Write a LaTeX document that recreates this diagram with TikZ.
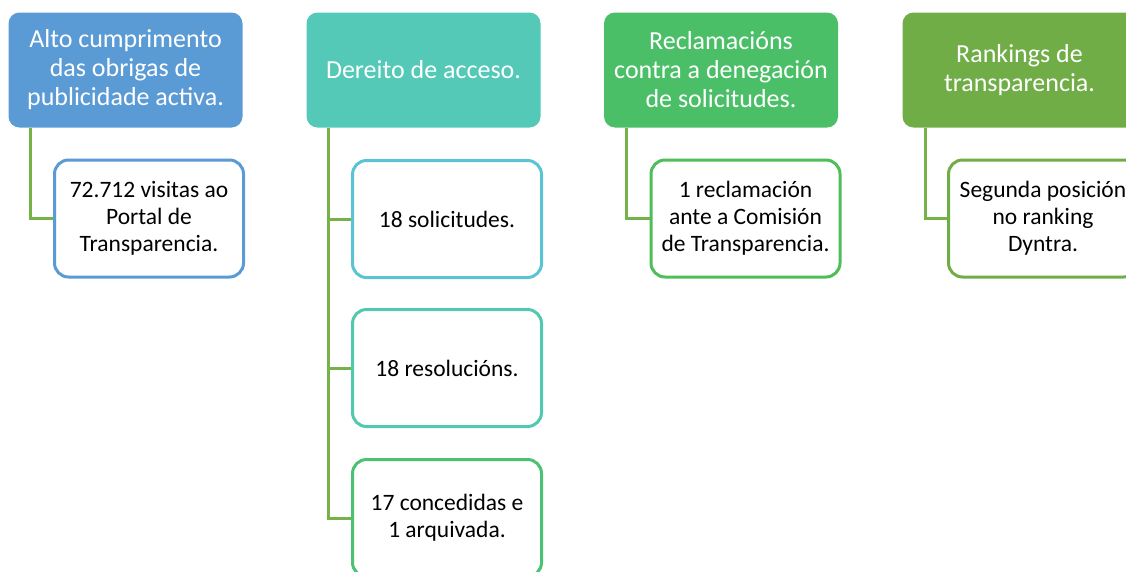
\documentclass[tikz,border=0pt]{standalone}
\usepackage{fontspec}
\setmainfont{Carlito}
\definecolor{cA}{HTML}{5B9BD5}
\definecolor{cB}{HTML}{54C9B7}
\definecolor{cC}{HTML}{4BBF67}
\definecolor{cD}{HTML}{70AD47}
\definecolor{bA}{HTML}{5B9BD5}
\definecolor{bB1}{HTML}{5BC4D4}
\definecolor{bB2}{HTML}{52C9AE}
\definecolor{bB3}{HTML}{4CC172}
\definecolor{bC}{HTML}{4DBE5A}
\definecolor{bD}{HTML}{70AD47}
\definecolor{lineG}{HTML}{76B247}
\tikzset{
  head/.style={rectangle, rounded corners=11pt, minimum width=234pt, minimum height=115pt,
    inner sep=2pt, align=center, text=white, font=\fontsize{26}{29}\selectfont},
  child/.style={rectangle, rounded corners=14pt, draw, line width=3pt, fill=white,
    minimum width=189pt, minimum height=117pt, inner sep=2pt, align=center, text=black,
    font=\fontsize{23.5}{27}\selectfont},
  conn/.style={draw=lineG, line width=3pt}
}
\begin{document}
\begin{tikzpicture}[x=1pt,y=-1pt]
\useasboundingbox (0,0) rectangle (1126,571);
\clip (0,0) rectangle (1126,571);
% headers
\node[head, fill=cA] (h1) at (125.5,70) {Alto cumprimento\\das obrigas de\\publicidade activa.};
\node[head, fill=cB] (h2) at (423.5,70) {Dereito de acceso.};
\node[head, fill=cC] (h3) at (721,70) {Reclamacións\\contra a denegación\\de solicitudes.};
\node[head, fill=cD] (h4) at (1019.5,70) {Rankings de\\transparencia.};
% children
\node[child, draw=bA] (c1) at (149,218.5) {72.712 visitas ao\\Portal de\\Transparencia.};
\node[child, draw=bB1] (c2a) at (447,219) {18 solicitudes.};
\node[child, draw=bB2] (c2b) at (447,368) {18 resolucións.};
\node[child, draw=bB3] (c2c) at (447,518) {17 concedidas e\\1 arquivada.};
\node[child, draw=bC] (c3) at (745.5,218.5) {1 reclamación\\ante a Comisión\\de Transparencia.};
\node[child, draw=bD] (c4) at (1043,218.5) {Segunda posición\\no ranking\\Dyntra.};
% connectors
\draw[conn] ([xshift=22pt]h1.south west) |- (c1.west);
\draw[conn] ([xshift=22pt]h2.south west) |- (c2a.west);
\draw[conn] ([xshift=22pt]h2.south west) |- (c2b.west);
\draw[conn] ([xshift=22pt]h2.south west) |- (c2c.west);
\draw[conn] ([xshift=23pt]h3.south west) |- (c3.west);
\draw[conn] ([xshift=23pt]h4.south west) |- (c4.west);
\end{tikzpicture}
\end{document}
